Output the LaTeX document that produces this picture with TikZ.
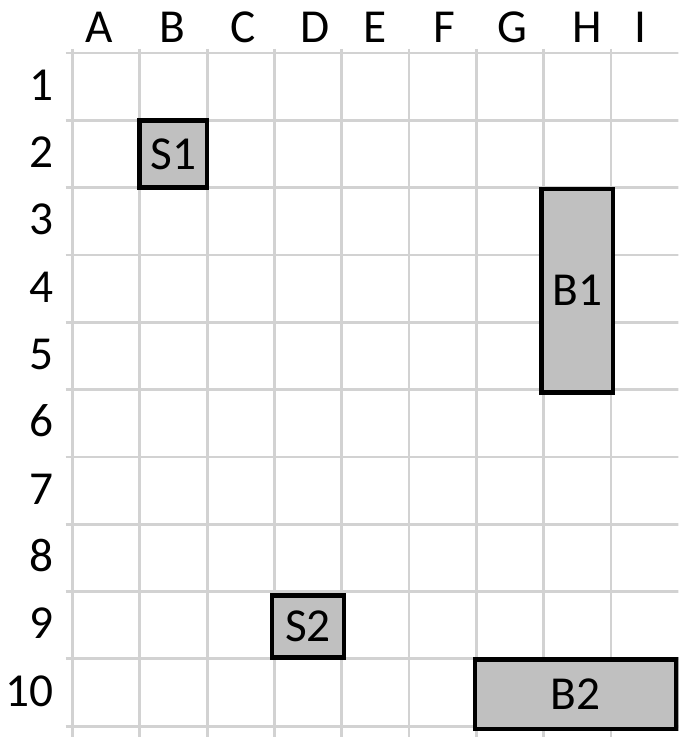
\documentclass[tikz,border=0pt]{standalone}
\usepackage{fontspec}
\setmainfont{Carlito}
\usetikzlibrary{positioning}
\definecolor{gridgray}{RGB}{210,210,210}
\definecolor{boxgray}{RGB}{192,192,192}

\begin{document}
\begin{tikzpicture}[x=1.5cm, y=-1.5cm, every node/.style={font=\fontsize{30}{32}\selectfont}]
  \tikzset{
    gridline/.style={draw=gridgray, line width=1.8pt},
    shipbox/.style={draw=black, line width=3pt, fill=boxgray, inner sep=0pt}
  }
  \useasboundingbox (-1.076,-0.7875) rectangle (9.0,10.16);
  \clip (-1.076,-0.7875) rectangle (9.0,10.16);

  % sheet grid
  \foreach \c in {0,...,8}
    \draw[gridline] (\c,-0.06) -- (\c,10.3);
  \foreach \r in {0,...,10}
    \draw[gridline] (-0.1,\r) -- (9.1,\r);

  % column and row headers
  \foreach \l/\x in {A/0.40,B/1.48,C/2.54,D/3.61,E/4.50,F/5.52,G/6.54,H/7.65,I/8.44}
    \node[anchor=base] (col\l) at (\x,-0.15) {\l};
  \foreach \r in {1,...,10}
    \node[anchor=base east, inner sep=0pt] (row\r) at (-0.27,\r-0.3) {\r};

  % ships
  \node[shipbox, minimum width=1.5cm, minimum height=1.5cm] (s1) at (1.5,1.5) {S1};
  \node[shipbox, minimum width=1.59cm, minimum height=4.53cm] (b1) at (7.5,3.53) {B1};
  \node[shipbox, minimum width=1.605cm, minimum height=1.38cm] (s2) at (3.5,8.52) {S2};
  \node[shipbox, minimum width=4.485cm, minimum height=1.545cm] (b2) at (7.475,9.525) {B2};
\end{tikzpicture}
\end{document}
